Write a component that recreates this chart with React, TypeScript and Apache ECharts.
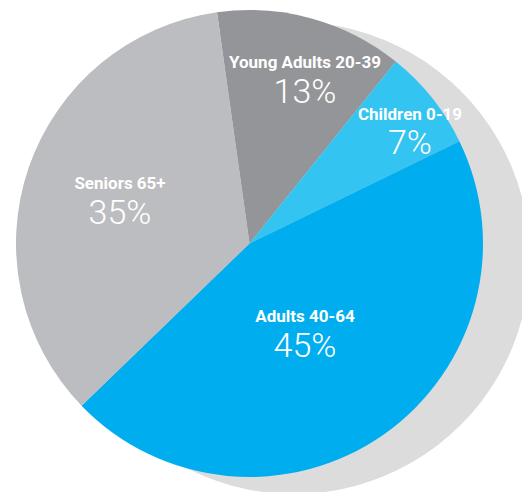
import React, { useEffect, useRef } from "react";
import * as echarts from "echarts";

const categories = ["Young Adults 20-39", "Children 0-19", "Adults 40-64", "Seniors 65+"];
const values = [13, 7, 45, 35];
const colors = ["#939598", "#33C4F2", "#00AEEF", "#BCBDC0"];
// label anchor points (x, title centre y, percent centre y), in pixels
const labelPos = [
  [305, 62, 91],
  [410, 114, 142],
  [305, 316, 345],
  [120, 183, 212],
];

export default function App() {
  const ref = useRef<HTMLDivElement>(null);
  useEffect(() => {
    if (!ref.current) return;
    const chart = echarts.init(ref.current, null, { renderer: "svg" });
    const texts: any[] = [];
    categories.forEach((name, i) => {
      const [x, y1, y2] = labelPos[i];
      texts.push({
        type: "text",
        x,
        y: y1,
        z: 100,
        style: {
          text: name,
          fill: "#ffffff",
          fontFamily: "Roboto",
          fontWeight: "bold",
          fontSize: 17,
          lineHeight: 14,
          align: "center",
          verticalAlign: "middle",
        },
      });
      texts.push({
        type: "text",
        x,
        y: y2,
        z: 100,
        style: {
          text: `${values[i]}%`,
          fill: "#ffffff",
          fontFamily: "Roboto",
          fontWeight: 300,
          fontSize: 34,
          lineHeight: 26,
          align: "center",
          verticalAlign: "middle",
        },
      });
    });
    chart.setOption({
      animation: false,
      backgroundColor: "#ffffff",
      graphic: [
        {
          type: "circle",
          shape: { cx: 294, cy: 258, r: 236 },
          z: -10,
          style: { fill: "#DCDCDC" },
          silent: true,
        },
        ...texts,
      ],
      series: [
        {
          type: "pie",
          center: [249.5, 243.5],
          radius: 233.5,
          startAngle: 98,
          clockwise: true,
          label: { show: false },
          labelLine: { show: false },
          emphasis: { disabled: true },
          itemStyle: { borderWidth: 0 },
          data: categories.map((name, i) => ({
            name,
            value: values[i],
            itemStyle: { color: colors[i] },
          })),
        },
      ],
    });
    return () => chart.dispose();
  }, []);
  return (
    <div
      ref={ref}
      style={{ position: "fixed", left: 0, top: 0, width: 522, height: 492 }}
    />
  );
}
